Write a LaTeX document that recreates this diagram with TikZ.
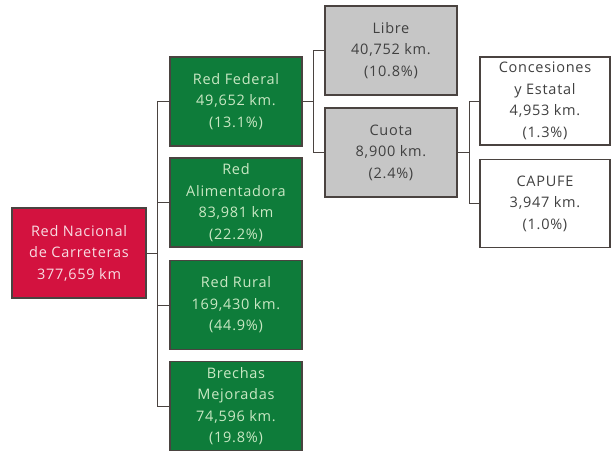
\documentclass[tikz,border=0pt]{standalone}
\usepackage{fontspec}
\setmainfont{Open Sans}
\definecolor{rojo}{HTML}{D3123F}
\definecolor{verde}{HTML}{0E7C3A}
\definecolor{gris}{HTML}{C6C6C6}
\definecolor{borde}{HTML}{4A4340}
\definecolor{textoverde}{HTML}{C9E8C4}
\begin{document}
\begin{tikzpicture}[x=1pt,y=-1pt,
  caja/.style={draw=borde, line width=1.2pt, rectangle, align=center, minimum width=132pt, minimum height=89pt, inner sep=0pt, font=\fontsize{14.5}{21.5}\selectfont\addfontfeatures{LetterSpace=5}},
  linea/.style={draw=borde, line width=0.9pt}]
\useasboundingbox (0,0) rectangle (611,452);
\node[caja, fill=rojo, text=rojo!15, minimum width=134pt, minimum height=90pt] (1) at (79,253) {Red Nacional\\de Carreteras\\377,659 km};
\node[caja, fill=verde, text=textoverde] (2) at (236,101.5) {Red Federal\\49,652 km.\\(13.1\%)};
\node[caja, fill=verde, text=textoverde] (3) at (236,202.5) {Red\\Alimentadora\\83,981 km\\(22.2\%)};
\node[caja, fill=verde, text=textoverde] (4) at (236,305) {Red Rural\\169,430 km.\\(44.9\%)};
\node[caja, fill=verde, text=textoverde] (5) at (236,406) {Brechas\\Mejoradas\\74,596 km.\\(19.8\%)};
\node[caja, fill=gris, text=black!75] (6) at (391,50.5) {Libre\\40,752 km.\\(10.8\%)};
\node[caja, fill=gris, text=black!75] (7) at (391,152.5) {Cuota\\8,900 km.\\(2.4\%)};
\node[caja, fill=white, text=black!75, minimum width=130pt, minimum height=88pt] (8) at (545,101) {Concesiones\\y Estatal\\4,953 km.\\(1.3\%)};
\node[caja, fill=white, text=black!75, minimum width=130pt, minimum height=88pt] (9) at (545,203.5) {CAPUFE\\3,947 km.\\(1.0\%)};
\coordinate (a) at (157,253);
\coordinate (b) at (313,101.5);
\coordinate (c) at (469,152.5);
\path[linea] (1) -- (a);
\path[linea] (a) |- (2);
\path[linea] (a) |- (3);
\path[linea] (a) |- (4);
\path[linea] (a) |- (5);
\path[linea] (2) -- (b);
\path[linea] (b) |- (6);
\path[linea] (b) |- (7);
\path[linea] (7) -- (c);
\path[linea] (c) |- (8);
\path[linea] (c) |- (9);
\end{tikzpicture}
\end{document}
